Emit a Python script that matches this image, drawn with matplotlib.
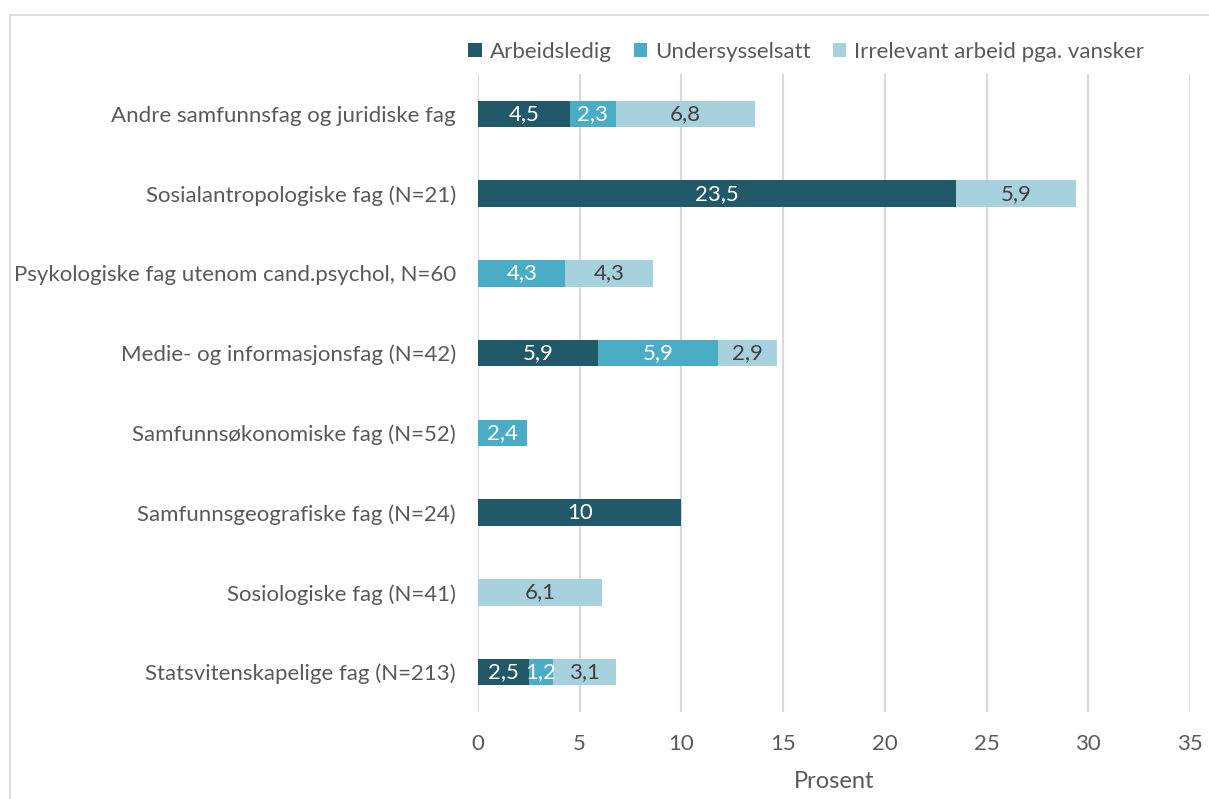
import matplotlib
matplotlib.use("Agg")
import matplotlib.pyplot as plt
from matplotlib.patches import Rectangle
import numpy as np

plt.rcParams['font.family'] = ['Lato', 'DejaVu Sans']

categories = [
    "Andre samfunnsfag og juridiske fag",
    "Sosialantropologiske fag (N=21)",
    "Psykologiske fag utenom cand.psychol, N=60",
    "Medie- og informasjonsfag (N=42)",
    "Samfunnsøkonomiske fag (N=52)",
    "Samfunnsgeografiske fag (N=24)",
    "Sosiologiske fag (N=41)",
    "Statsvitenskapelige fag (N=213)",
]
series_names = ["Arbeidsledig", "Undersysselsatt", "Irrelevant arbeid pga. vansker"]
arbeidsledig = [4.5, 23.5, 0, 5.9, 0, 10, 0, 2.5]
undersysselsatt = [2.3, 0, 4.3, 5.9, 2.4, 0, 0, 1.2]
irrelevant = [6.8, 5.9, 4.3, 2.9, 0, 0, 6.1, 3.1]
arbeidsledig_labels = ["4,5", "23,5", "", "5,9", "", "10", "", "2,5"]
undersysselsatt_labels = ["2,3", "", "4,3", "5,9", "2,4", "", "", "1,2"]
irrelevant_labels = ["6,8", "5,9", "4,3", "2,9", "", "", "6,1", "3,1"]
x_ticks = [0, 5, 10, 15, 20, 25, 30, 35]

colors = ["#215968", "#4BACC6", "#A8D1DE"]
label_colors = ["white", "white", "#404040"]

fig = plt.figure(figsize=(12.09, 7.99), dpi=100)
ax = fig.add_axes([478/1209, 1-712/799, (1190-478)/1209, (712-74)/799])

y = np.arange(len(categories))
left = np.zeros(len(categories))
all_vals = [arbeidsledig, undersysselsatt, irrelevant]
all_labels = [arbeidsledig_labels, undersysselsatt_labels, irrelevant_labels]
handles = []
for vals, labs, c, lc, name in zip(all_vals, all_labels, colors, label_colors, series_names):
    vals = np.array(vals, dtype=float)
    bars = ax.barh(y, vals, left=left, height=0.33, color=c, label=name, zorder=3)
    handles.append(bars)
    for rect, lab in zip(bars, labs):
        if lab:
            ax.text(rect.get_x() + rect.get_width()/2, rect.get_y() + rect.get_height()/2, lab,
                    ha='center', va='center', color=lc, fontsize=16, zorder=4)
    left = left + vals

ax.set_ylim(len(categories) - 0.5, -0.5)
ax.set_xlim(0, 35)
ax.set_xticks(x_ticks)
ax.set_yticks(y)
ax.set_yticklabels(categories)
ax.tick_params(axis='both', length=0, labelsize=16, labelcolor='#595959')
ax.tick_params(axis='x', pad=16)
ax.tick_params(axis='y', pad=16)
ax.grid(axis='x', color='#D9D9D9', linewidth=1.5, zorder=0)
for s in ax.spines.values():
    s.set_visible(False)
ax.set_xlabel("Prosent", fontsize=17, color='#595959', labelpad=12)

fig.legend(handles=handles, labels=series_names, loc='center', bbox_to_anchor=(806/1209, 1-52/799),
           ncol=3, frameon=False, fontsize=16, handlelength=0.6, handleheight=0.6,
           handletextpad=0.35, columnspacing=1.0, labelcolor='#595959')

fig.patches.append(Rectangle((10/1209, -0.1), 1.2, 1 - 15/799 + 0.1, transform=fig.transFigure,
                             fill=False, edgecolor='#D9D9D9', linewidth=1.2))

fig.savefig("out.png", dpi=100)
